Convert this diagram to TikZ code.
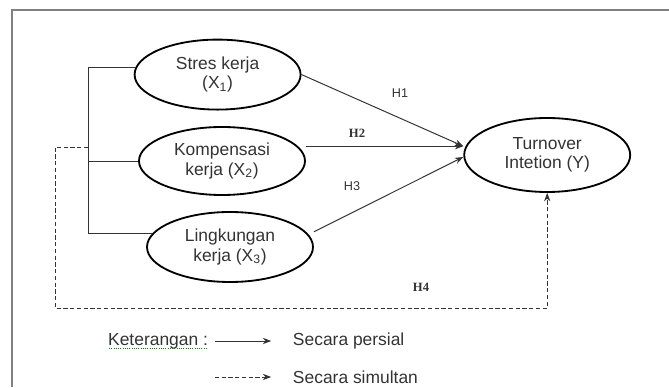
\documentclass[tikz,border=0pt]{standalone}
\usepackage{fontspec}
\setmainfont{Liberation Sans}
\newfontfamily\serifH{Liberation Serif}
\usetikzlibrary{shapes.geometric,arrows.meta}

\tikzset{
  var/.style={ellipse, draw, line width=1.3pt, minimum width=4.15cm, minimum height=1.75cm,
    inner sep=0pt, align=center, text=black!80, font=\fontsize{12.4}{13.9}\selectfont},
  conn/.style={black!80, line width=0.7pt},
  simul/.style={conn, dash pattern=on 3pt off 1.8pt},
  hsans/.style={text=black!80, font=\fontsize{9}{10}\selectfont},
  hserif/.style={text=black!80, font=\serifH\bfseries\fontsize{9}{10}\selectfont},
  legtext/.style={anchor=west, text=black!80, font=\fontsize{12.4}{14}\selectfont},
  spell/.style={green!55!black, densely dotted, line width=0.6pt}
}

\begin{document}
\begin{tikzpicture}[>={Stealth[length=6pt,width=4.5pt]}]
        \useasboundingbox (0,0) rectangle (16.725,9.675);
        % Frame
        \draw[black!50, line width=1.1pt] (0.3,0) -- (0.3,9.425) -- (16.725,9.425);

        % Variables
        \node[var] (stres) at (5.44,7.81) {Stres kerja\\(X\textsubscript{1})};
        \node[var, minimum height=1.7cm] (komp) at (5.55,5.65) {Kompensasi\\kerja (X\textsubscript{2})};
        \node[var] (ling) at (5.75,3.5) {Lingkungan\\kerja (X\textsubscript{3})};
        \node[var, minimum height=1.85cm] (turn) at (13.68,5.8) {Turnover\\Intetion (Y)};

        % Bracket joining X1, X2, X3
        \coordinate (bk) at (2.2,0);
        \draw[conn] (stres.175) -- (stres.175 -| bk) -- (ling.170 -| bk) -- (ling.170);
        \draw[conn] (komp.west) -- (komp.west -| bk);

        % Partial effects
        \coordinate (t12) at ([yshift=0.22cm]turn.west);
        \coordinate (t3) at ([yshift=-0.05cm]turn.west);
        \draw[conn,->] (stres.east) -- (t12);
        \draw[conn,->] (komp.east |- t12) -- (t12);
        \draw[conn,->] ([yshift=0.38cm]ling.east) -- (t3);

        % Simultaneous effect
        \coordinate (d0) at (2.2,6.0);
        \coordinate (d1) at (1.375,1.975);
        \draw[simul,->] (d0) -| (d1) -| (turn.south);

        % Hypotheses
        \node[hsans] (h1) at (10.0,7.35) {H1};
        \node[hserif] (h2) at (8.925,6.35) {H2};
        \node[hsans] (h3) at (8.8,5.025) {H3};
        \node[hserif] (h4) at (10.525,2.5) {H4};

        % Legend
        \node[legtext] (ket) at (2.58,1.15) {Keterangan :};
        \node[legtext] (persial) at (7.2,1.15) {Secara persial};
        \node[legtext] (simultan) at (7.2,0.25) {Secara simultan};
        \draw[spell] ([xshift=0.15cm,yshift=-2.5pt]ket.base west) -- ([xshift=-0.15cm,yshift=-2.5pt]ket.base east);
        \draw[conn,->] ([xshift=-1.83cm]persial.west) -- ([xshift=-0.42cm]persial.west);
        \draw[simul,->] ([xshift=-1.83cm]simultan.west) -- ([xshift=-0.42cm]simultan.west);
\end{tikzpicture}
\end{document}
